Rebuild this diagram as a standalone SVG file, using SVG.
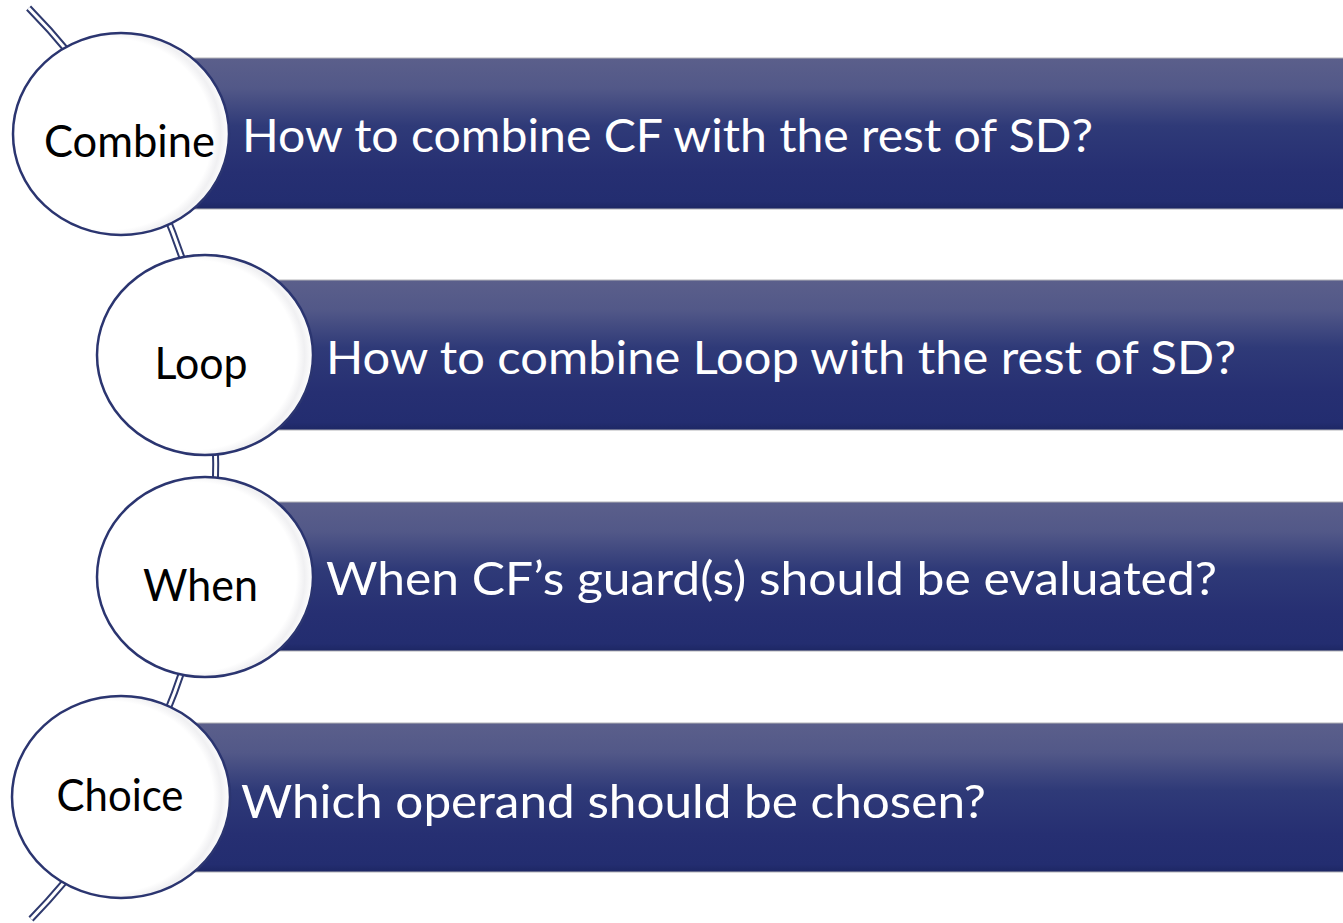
<svg xmlns="http://www.w3.org/2000/svg" width="1343" height="923" viewBox="0 0 1343 923">
  <defs>
    <linearGradient id="barGrad" x1="0" y1="0" x2="0" y2="1">
      <stop offset="0" stop-color="#5b5f8b"/>
      <stop offset="0.2" stop-color="#525888"/>
      <stop offset="0.45" stop-color="#2f3a78"/>
      <stop offset="0.75" stop-color="#262f72"/>
      <stop offset="0.95" stop-color="#232d70"/>
      <stop offset="1" stop-color="#1d2764"/>
    </linearGradient>
    <radialGradient id="circGrad" cx="0.45" cy="0.5" r="0.55">
      <stop offset="0" stop-color="#ffffff"/>
      <stop offset="0.86" stop-color="#ffffff"/>
      <stop offset="0.93" stop-color="#f0f0f2"/>
      <stop offset="1" stop-color="#ffffff"/>
    </radialGradient>
    <style>
      .bar { fill: url(#barGrad); stroke: #b4b4b8; stroke-width: 1; }
      .circ { fill: url(#circGrad); stroke: #2b3570; stroke-width: 2.5; }
      .btxt { fill: #ffffff; font-family: Lato, "Open Sans", sans-serif; font-size: 47px; }
      .ctxt { fill: #000000; font-family: Lato, "Open Sans", sans-serif; font-size: 45px; text-anchor: middle; }
      .conOuter { fill: none; stroke: #2f3a6e; stroke-width: 7; }
      .conInner { fill: none; stroke: #ffffff; stroke-width: 3; }
    </style>
  </defs>

  <g id="connectors">
    <path class="conOuter" d="M 28.6 8 A 651 651 0 0 1 31 919"/>
    <path class="conInner" d="M 28.6 8 A 651 651 0 0 1 31 919"/>
  </g>

  <g id="node-combine">
    <rect class="bar" x="121" y="58" width="1240" height="151"/>
    <ellipse class="circ" cx="121" cy="134" rx="108" ry="101"/>
    <text class="ctxt" x="129.5" y="157" textLength="171" lengthAdjust="spacingAndGlyphs">Combine</text>
    <text class="btxt" x="242" y="152" textLength="851" lengthAdjust="spacingAndGlyphs">How to combine CF with the rest of SD?</text>
  </g>

  <g id="node-loop">
    <rect class="bar" x="205" y="280" width="1160" height="150"/>
    <ellipse class="circ" cx="205" cy="355" rx="108" ry="100"/>
    <text class="ctxt" x="201" y="379" textLength="93" lengthAdjust="spacingAndGlyphs">Loop</text>
    <text class="btxt" x="326" y="374" textLength="910" lengthAdjust="spacingAndGlyphs">How to combine Loop with the rest of SD?</text>
  </g>

  <g id="node-when">
    <rect class="bar" x="205" y="502" width="1160" height="149"/>
    <ellipse class="circ" cx="205" cy="577" rx="108" ry="100"/>
    <text class="ctxt" x="200.5" y="601" textLength="115" lengthAdjust="spacingAndGlyphs">When</text>
    <text class="btxt" x="326" y="595" textLength="891" lengthAdjust="spacingAndGlyphs">When CF’s guard(s) should be evaluated?</text>
  </g>

  <g id="node-choice">
    <rect class="bar" x="121" y="723" width="1240" height="149"/>
    <ellipse class="circ" cx="121" cy="797" rx="109" ry="101"/>
    <text class="ctxt" x="120" y="811" textLength="127" lengthAdjust="spacingAndGlyphs">Choice</text>
    <text class="btxt" x="241" y="818" textLength="745" lengthAdjust="spacingAndGlyphs">Which operand should be chosen?</text>
  </g>
</svg>
